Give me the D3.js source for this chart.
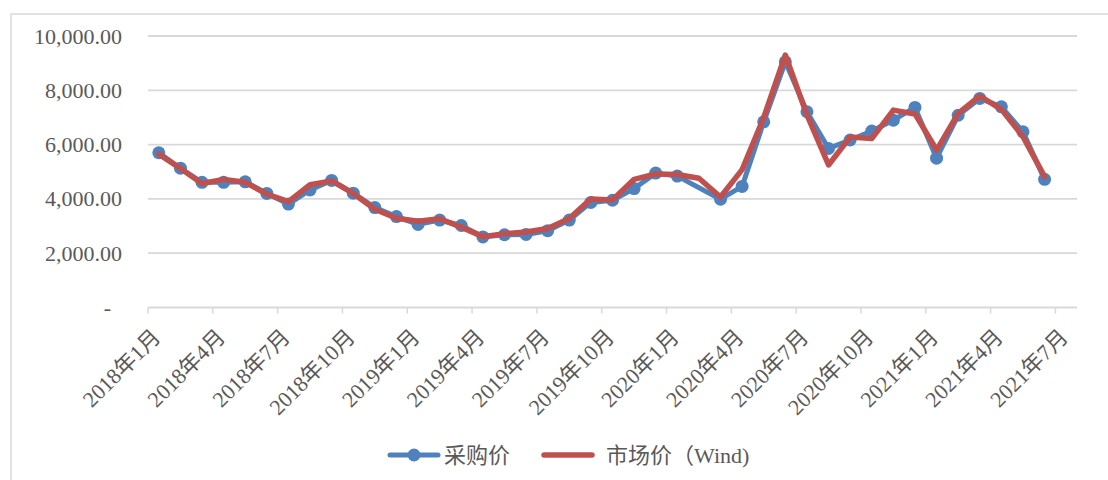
<!DOCTYPE html>
<html><head><meta charset="utf-8">
<script src="https://cdn.jsdelivr.net/npm/d3@7/dist/d3.min.js"></script>
<style>
html,body{margin:0;padding:0;background:#fff;}
svg{display:block;}
</style></head>
<body>
<svg id="chart" width="1108" height="480"></svg>
<script>
const categories = [
  "2018年1月","2018年2月","2018年3月","2018年4月","2018年5月","2018年6月",
  "2018年7月","2018年8月","2018年9月","2018年10月","2018年11月","2018年12月",
  "2019年1月","2019年2月","2019年3月","2019年4月","2019年5月","2019年6月",
  "2019年7月","2019年8月","2019年9月","2019年10月","2019年11月","2019年12月",
  "2020年1月","2020年2月","2020年3月","2020年4月","2020年5月","2020年6月",
  "2020年7月","2020年8月","2020年9月","2020年10月","2020年11月","2020年12月",
  "2021年1月","2021年2月","2021年3月","2021年4月","2021年5月","2021年6月",
  "2021年7月"
];
const purchasePrice = [
  5700,5130,4610,4610,4630,4200,3810,4330,4680,4210,3680,3350,
  3060,3220,3020,2600,2680,2690,2830,3220,3870,3950,4380,4950,
  4840,null,3990,4460,6840,9050,7210,5860,6170,6500,6900,7370,
  5500,7080,7700,7390,6470,4720,null
];
const marketPrice = [
  5650,5120,4570,4720,4610,4180,3900,4520,4660,4200,3620,3290,
  3180,3270,2960,2610,2720,2780,2910,3280,4000,3960,4720,4920,
  4900,4760,4070,5080,7000,9300,7090,5250,6280,6220,7270,7130,
  5800,7150,7790,7300,6290,4820,null
];
const tickLabels = [
  "2018年1月","2018年4月","2018年7月","2018年10月","2019年1月","2019年4月",
  "2019年7月","2019年10月","2020年1月","2020年4月","2020年7月","2020年10月",
  "2021年1月","2021年4月","2021年7月"
];
const yTicks = [0,2000,4000,6000,8000,10000];
const seriesNames = ["采购价","市场价（Wind)"];

const svg = d3.select("#chart");
const L = 148, R = 1077, T = 36, B = 307.5;
const blue = "#4f81bd", red = "#c0504d", grid = "#d9d9d9", txt = "#595959";
const fontFam = "'Liberation Serif','Noto Sans CJK SC',serif";

// outer frame
svg.append("rect").attr("x",11).attr("y",14).attr("width",1120).attr("height",500)
  .attr("fill","none").attr("stroke",grid).attr("stroke-width",1.5);

const x = d3.scaleBand().domain(categories).range([L,R]).paddingInner(0).paddingOuter(0);
const y = d3.scaleLinear().domain([0,10000]).range([B,T]);
const cx = d => x(d) + x.bandwidth()/2;

// gridlines
svg.append("g").selectAll("line").data(yTicks).join("line")
  .attr("x1",L).attr("x2",R).attr("y1",d=>y(d)).attr("y2",d=>y(d))
  .attr("stroke",grid).attr("stroke-width",1.8);

// y labels
const fmt = d3.format(",.2f");
svg.append("g").selectAll("text").data(yTicks).join("text")
  .attr("x",d=> d===0 ? 111 : 122).attr("y",d=>y(d))
  .attr("text-anchor","end").attr("dominant-baseline","central")
  .attr("font-family",fontFam).attr("font-size",22).attr("fill",txt)
  .text(d=> d===0 ? "-" : fmt(d));

// x tick marks at category boundaries every 3 months
const tickCats = categories.filter(c => tickLabels.includes(c));
svg.append("g").selectAll("line").data(tickCats).join("line")
  .attr("x1",d=>x(d)).attr("x2",d=>x(d)).attr("y1",B).attr("y2",B+6)
  .attr("stroke",grid).attr("stroke-width",1.5);

// x labels rotated
svg.append("g").selectAll("text").data(tickCats).join("text")
  .attr("transform",d=>`translate(${cx(d)+3},${B+31}) rotate(-45)`)
  .attr("text-anchor","end")
  .attr("font-family",fontFam).attr("font-size",22).attr("fill",txt)
  .text(d=>d);

// series
const bluePts = categories.map((c,i)=>({c, v: purchasePrice[i]})).filter(d=>d.v!=null);
const redPts = categories.map((c,i)=>({c, v: marketPrice[i]})).filter(d=>d.v!=null);
const line = d3.line().x(d=>cx(d.c)).y(d=>y(d.v));

svg.append("path").datum(bluePts).attr("d",line)
  .attr("fill","none").attr("stroke",blue).attr("stroke-width",5)
  .attr("stroke-linejoin","round").attr("stroke-linecap","round");
svg.append("g").selectAll("circle").data(bluePts).join("circle")
  .attr("cx",d=>cx(d.c)).attr("cy",d=>y(d.v)).attr("r",6.5).attr("fill",blue);
svg.append("path").datum(redPts).attr("d",line)
  .attr("fill","none").attr("stroke",red).attr("stroke-width",5.5)
  .attr("stroke-linejoin","round").attr("stroke-linecap","round");

// legend
const lg = svg.append("g");
const ly = 455;
lg.append("line").attr("x1",390).attr("x2",438).attr("y1",ly).attr("y2",ly)
  .attr("stroke",blue).attr("stroke-width",5).attr("stroke-linecap","round");
lg.append("circle").attr("cx",414).attr("cy",ly).attr("r",6.5).attr("fill",blue);
lg.append("text").attr("x",444).attr("y",ly).attr("dominant-baseline","central")
  .attr("font-family",fontFam).attr("font-size",22).attr("fill",txt).text(seriesNames[0]);
lg.append("line").attr("x1",544).attr("x2",592).attr("y1",ly).attr("y2",ly)
  .attr("stroke",red).attr("stroke-width",5.5).attr("stroke-linecap","round");
lg.append("text").attr("x",606).attr("y",ly).attr("dominant-baseline","central")
  .attr("font-family",fontFam).attr("font-size",22).attr("fill",txt).text(seriesNames[1]);
</script>
</body></html>
